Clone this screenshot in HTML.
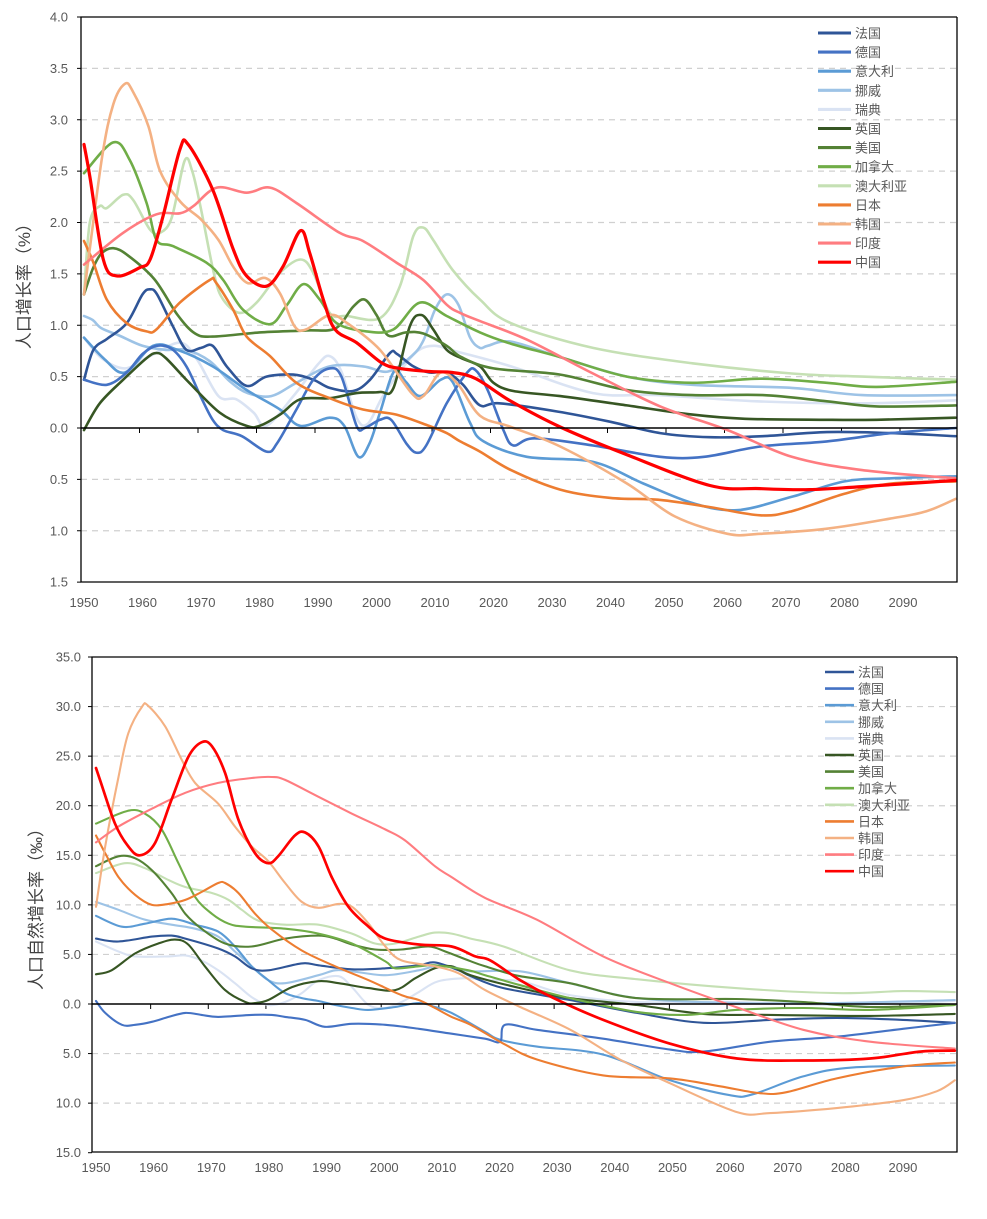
<!DOCTYPE html>
<html><head><meta charset="utf-8">
<style>
html,body{margin:0;padding:0;background:#fff;}
svg{display:block;font-family:"Liberation Sans","Noto Sans CJK SC",sans-serif;}
.tick{font-size:13px;fill:#595959;}
.leg{font-size:13px;fill:#595959;}
</style></head>
<body>
<svg id="chart" width="987" height="1219" viewBox="0 0 987 1219" xmlns="http://www.w3.org/2000/svg">
<defs>
<clipPath id="clipTop"><rect x="81" y="10" width="877" height="573"/></clipPath>
<clipPath id="clipBot"><rect x="92" y="650" width="866" height="503"/></clipPath>
</defs>
<g id="top"></g>
<g id="bot"></g>
</svg>
<script>
const names = ["法国","德国","意大利","挪威","瑞典","英国","美国","加拿大","澳大利亚","日本","韩国","印度","中国"];
const keys = ["france","germany","italy","norway","sweden","uk","us","canada","australia","japan","korea","india","china"];
const colors = ["#2F5597","#4472C4","#5B9BD5","#9DC3E6","#DAE3F3","#375623","#548235","#70AD47","#C5E0B4","#ED7D31","#F4B183","#FF7C80","#FF0000"];
const xTickYears = [1950,1960,1970,1980,1990,2000,2010,2020,2030,2040,2050,2060,2070,2080,2090];
const topYTicks = [4,3.5,3,2.5,2,1.5,1,0.5,0,-0.5,-1,-1.5];
const botYTicks = [35,30,25,20,15,10,5,0,-5,-10,-15];

// ---- top chart: population growth rate (%) ----
const topFrance = [[1950,0.47],[1951.6,0.76],[1954,0.87],[1957.3,1.02],[1960,1.3],[1961.3,1.35],[1962.5,1.3],[1965.2,0.99],[1967.5,0.76],[1970,0.78],[1972,0.8],[1974.4,0.6],[1977.8,0.41],[1981.2,0.5],[1985.8,0.52],[1989.2,0.47],[1992,0.39],[1996,0.36],[1998.9,0.47],[2002.3,0.73],[2003.5,0.72],[2006.3,0.6],[2009,0.54],[2012,0.54],[2014.8,0.42],[2017.7,0.22],[2021,0.24],[2031,0.16],[2040,0.06],[2048.5,-0.05],[2057,-0.09],[2066,-0.08],[2077,-0.04],[2088,-0.05],[2099,-0.08]];
const topGermany = [[1950,0.47],[1953.9,0.42],[1957.3,0.54],[1960,0.72],[1962.4,0.8],[1965,0.77],[1967.5,0.6],[1970,0.3],[1972,0.08],[1973.8,-0.02],[1977,-0.08],[1981.2,-0.23],[1983,-0.15],[1986.3,0.18],[1989.2,0.47],[1992,0.58],[1994,0.5],[1996.6,0.02],[1998,0],[2000.6,0.08],[2002.5,0.08],[2005.1,-0.15],[2006.8,-0.24],[2008.5,-0.17],[2012,0.24],[2015.5,0.54],[2017,0.56],[2019,0.37],[2021.7,-0.02],[2023.4,-0.17],[2027,-0.1],[2037,-0.17],[2048.5,-0.28],[2056,-0.28],[2065.6,-0.18],[2077,-0.13],[2088,-0.05],[2099,0.0]];
const topItaly = [[1950,0.88],[1953.5,0.67],[1957,0.54],[1961.8,0.8],[1966,0.76],[1972,0.6],[1977.8,0.37],[1983.5,0.18],[1987,0.02],[1992,0.1],[1994.5,0.02],[1996.9,-0.28],[1998.8,-0.15],[2000.6,0.15],[2003,0.55],[2005,0.45],[2007.5,0.31],[2011,0.47],[2013,0.45],[2016,0.05],[2018.3,-0.13],[2025.7,-0.28],[2037,-0.33],[2045.6,-0.54],[2054,-0.73],[2061.6,-0.8],[2071,-0.67],[2080,-0.52],[2088,-0.49],[2099,-0.47]];
const topNorway = [[1950,1.09],[1951.5,1.05],[1953,0.97],[1956,0.9],[1960,0.8],[1964,0.76],[1967.5,0.76],[1971.5,0.65],[1975,0.45],[1978,0.34],[1982,0.31],[1986.3,0.44],[1992,0.6],[1997.7,0.6],[2002,0.55],[2006,0.7],[2008,0.85],[2010,1.15],[2012,1.3],[2014,1.2],[2016,0.88],[2017.7,0.78],[2019,0.8],[2023,0.84],[2031.4,0.69],[2042.8,0.5],[2054,0.42],[2071,0.39],[2083,0.32],[2099,0.32]];
const topSweden = [[1950,0.88],[1953,0.68],[1957,0.58],[1961.3,0.7],[1966.4,0.83],[1969.3,0.67],[1973,0.31],[1976,0.28],[1979,0.15],[1981.2,0.02],[1985.8,0.31],[1990,0.62],[1992,0.7],[1994,0.55],[1996.6,0.1],[1998.5,0.04],[2001,0.3],[2004,0.55],[2007,0.75],[2010,0.8],[2014,0.74],[2023,0.6],[2037,0.34],[2048,0.32],[2065,0.26],[2083,0.24],[2099,0.27]];
const topUK = [[1950,-0.02],[1952.7,0.24],[1956.7,0.47],[1960.7,0.68],[1962.4,0.73],[1964,0.68],[1968,0.44],[1973.2,0.15],[1977.8,0.02],[1980,0.02],[1983.5,0.13],[1987,0.28],[1992,0.29],[1996.6,0.34],[2000.6,0.35],[2002.9,0.39],[2005.7,0.99],[2007.7,1.1],[2009.7,0.96],[2012,0.76],[2014.5,0.68],[2017.7,0.6],[2020,0.44],[2023.4,0.36],[2031.4,0.31],[2042.8,0.22],[2054,0.13],[2063,0.09],[2077,0.08],[2085.5,0.08],[2099,0.1]];
const topUS = [[1950,1.3],[1951.5,1.55],[1953,1.7],[1955,1.75],[1957.5,1.68],[1962,1.45],[1966,1.1],[1969,0.92],[1972,0.89],[1980,0.93],[1988,0.95],[1993,0.97],[1996,1.18],[1998,1.25],[2000,1.1],[2002,0.9],[2005,0.93],[2008,0.92],[2012,0.8],[2014.5,0.69],[2020,0.58],[2031.4,0.52],[2042.8,0.37],[2054,0.32],[2066,0.32],[2077,0.26],[2085.5,0.21],[2099,0.22]];
const topCanada = [[1950,2.48],[1955,2.78],[1957.8,2.61],[1960.7,2.19],[1962.4,1.83],[1965.2,1.77],[1970.9,1.61],[1973.8,1.44],[1977.2,1.15],[1981.8,1.01],[1984.6,1.19],[1987.5,1.4],[1990.3,1.25],[1993.2,1.02],[1998.3,0.94],[2002.9,0.96],[2007.4,1.22],[2012,1.09],[2017.7,0.93],[2023,0.82],[2031.4,0.69],[2042.8,0.5],[2054,0.44],[2065.6,0.48],[2077,0.44],[2085.5,0.4],[2099,0.45]];
const topAustralia = [[1950,1.3],[1951,2.0],[1952.7,2.16],[1953.9,2.14],[1956.7,2.27],[1958.4,2.22],[1961.3,1.93],[1963,1.9],[1965,2.05],[1967.2,2.6],[1968.5,2.5],[1970,2.13],[1972.3,1.48],[1973.8,1.25],[1976.6,1.12],[1979.5,1.22],[1983.5,1.51],[1987,1.64],[1989.2,1.51],[1992,1.12],[1995,1.09],[2000.6,1.07],[2004,1.38],[2006.3,1.87],[2008,1.95],[2009.7,1.83],[2013,1.54],[2017.7,1.25],[2023,1.02],[2037,0.78],[2054,0.63],[2071,0.53],[2083,0.5],[2099,0.47]];
const topJapan = [[1950,1.82],[1951.6,1.61],[1953.9,1.25],[1957.3,1.02],[1960.7,0.94],[1962.4,0.96],[1966.4,1.22],[1971.5,1.44],[1972.5,1.42],[1975.5,1.15],[1977.8,0.89],[1981.8,0.7],[1986.3,0.44],[1992,0.29],[1997.7,0.18],[2003.4,0.13],[2009,0.02],[2012,-0.05],[2014.3,-0.13],[2017.7,-0.23],[2023,-0.41],[2031.4,-0.6],[2040,-0.68],[2048.5,-0.7],[2057,-0.77],[2065.6,-0.85],[2071,-0.81],[2080,-0.64],[2088,-0.54],[2099,-0.52]];
const topKorea = [[1950,1.3],[1953,2.6],[1955,3.15],[1957,3.35],[1958.3,3.28],[1961,2.94],[1963,2.5],[1966.5,2.2],[1970,2.03],[1973,1.83],[1975.5,1.57],[1978,1.41],[1981,1.46],[1983.5,1.31],[1986,0.99],[1988,0.96],[1992,1.1],[1995,1.02],[2000.6,0.76],[2006,0.34],[2008,0.31],[2011,0.54],[2014,0.42],[2017.7,0.12],[2023,0.01],[2031.4,-0.18],[2042.8,-0.54],[2051,-0.86],[2060,-1.03],[2065.6,-1.03],[2077,-0.98],[2088,-0.88],[2094,-0.81],[2099,-0.69]];
const topIndia = [[1950,1.59],[1956.7,1.9],[1962.4,2.08],[1966.4,2.09],[1968.7,2.16],[1972.7,2.34],[1977.8,2.29],[1981.8,2.34],[1986.3,2.19],[1993.7,1.9],[1997.7,1.82],[2003.4,1.61],[2008,1.44],[2012,1.2],[2014.3,1.12],[2017.7,1.04],[2025.7,0.86],[2037,0.53],[2048.5,0.21],[2060,-0.02],[2071,-0.28],[2083,-0.41],[2099,-0.49]];
const topChina = [[1950,2.76],[1951,2.45],[1953.3,1.64],[1955.6,1.48],[1959.5,1.56],[1961.3,1.64],[1963.5,2.06],[1966.4,2.71],[1967.8,2.76],[1972,2.32],[1975.5,1.74],[1977.8,1.48],[1981.2,1.38],[1984,1.57],[1987,1.92],[1988.6,1.7],[1990.9,1.25],[1992.9,0.96],[1996.6,0.83],[2001,0.63],[2004,0.58],[2009,0.55],[2013,0.54],[2017,0.48],[2023,0.26],[2031.4,0.01],[2042.8,-0.26],[2057,-0.56],[2065.6,-0.59],[2074,-0.6],[2083,-0.57],[2099,-0.51]];

// ---- bottom chart: natural growth rate (‰) ----
const botFrance = [[1950,6.6],[1953.9,6.3],[1959.7,6.8],[1963.1,6.9],[1965.5,6.6],[1971.2,5.6],[1974.1,4.8],[1977,3.6],[1979.9,3.4],[1985.7,4.1],[1988.6,3.9],[1994.4,3.5],[2000.2,3.6],[2006,3.9],[2008.8,4.2],[2012.9,3.4],[2015,2.8],[2020.7,1.6],[2032.2,0.4],[2043.8,-0.9],[2055.4,-1.9],[2067,-1.6],[2078.5,-1.4],[2090,-1.6],[2099,-1.9]];
const botGermany = [[1950,0.3],[1951.6,-0.9],[1954.5,-2.1],[1956.8,-2.1],[1959.7,-1.8],[1962.6,-1.3],[1965.5,-0.9],[1968.3,-1.1],[1971.2,-1.3],[1977,-1.1],[1980.5,-1.1],[1982.8,-1.3],[1986.3,-1.6],[1989.7,-2.3],[1994.4,-2.0],[2000.2,-2.1],[2006,-2.5],[2011.7,-3.0],[2017.5,-3.5],[2020.1,-3.8],[2021,-2.1],[2026.5,-2.6],[2038,-3.5],[2049.6,-4.6],[2055.4,-4.8],[2067,-3.8],[2078.5,-3.3],[2090,-2.5],[2099,-1.9]];
const botItaly = [[1950,8.9],[1954.5,7.8],[1958.5,8.1],[1963.1,8.6],[1967.2,8.0],[1971.2,7.3],[1974.1,5.8],[1977,3.8],[1979.9,2.4],[1982.8,1.1],[1985.7,0.6],[1988.6,0.3],[1991.5,-0.1],[1994.4,-0.4],[1997.3,-0.6],[2001.9,-0.3],[2006,0.1],[2008.8,-0.3],[2011.7,-0.9],[2017.5,-2.8],[2020.1,-3.6],[2026.5,-4.3],[2038,-5.1],[2049.6,-7.7],[2060,-9.2],[2064,-9.1],[2072.7,-7.3],[2081.4,-6.4],[2099,-6.2]];
const botNorway = [[1950,10.3],[1953.9,9.5],[1958.5,8.5],[1963.1,8.0],[1967.2,7.6],[1971.2,6.8],[1974.1,5.3],[1977,3.8],[1979.9,2.4],[1982.8,2.1],[1988.6,2.9],[1991.5,3.4],[1994.4,3.3],[2000.2,2.9],[2006,3.4],[2008.8,3.8],[2011.7,3.8],[2015,3.3],[2023.6,3.3],[2032.2,2.1],[2043.8,0.6],[2061,0.1],[2078.5,0.1],[2099,0.4]];
const botSweden = [[1950,6.3],[1953.9,5.3],[1956.8,4.8],[1962.6,4.8],[1965.5,4.9],[1968.3,4.4],[1971.2,3.4],[1974.1,2.1],[1977,0.7],[1979.9,-0.1],[1982.8,0.2],[1985.7,1.1],[1988.6,2.4],[1992.1,2.8],[1994.4,1.7],[1997.3,-0.1],[2000.2,-0.4],[2003,0.2],[2006,1.2],[2009.4,2.3],[2014.6,2.6],[2017.5,2.4],[2023.6,2.3],[2032.2,0.9],[2043.8,0.2],[2061,0.2],[2078.5,-0.1],[2090,0.1],[2099,0.3]];
const botUK = [[1950,3.0],[1952.7,3.4],[1956.8,5.1],[1960.8,6.1],[1963.7,6.5],[1966,6.0],[1968.9,3.8],[1972.4,1.4],[1975.9,0.2],[1977.6,0.1],[1979.9,0.4],[1984,1.7],[1988.6,2.3],[1992.1,2.1],[1997.3,1.6],[2001.9,1.4],[2005.4,2.6],[2008.8,3.6],[2011.7,3.8],[2015,2.9],[2023.6,1.6],[2032.2,0.6],[2043.8,-0.1],[2055.4,-1.0],[2067,-1.1],[2084.3,-1.2],[2099,-1.0]];
const botUS = [[1950,13.9],[1953.9,14.9],[1956.8,14.7],[1959.7,13.5],[1963.1,11.2],[1965.5,9.1],[1968.3,7.6],[1972.4,6.1],[1977,5.8],[1982.8,6.6],[1988.6,6.9],[1991.5,6.6],[1994.4,6.0],[1998.4,5.5],[2003,5.5],[2007.7,5.8],[2010.6,5.3],[2014.6,4.4],[2017.5,3.8],[2023.6,2.8],[2032.2,2.1],[2043.8,0.6],[2061,0.5],[2072.7,0.2],[2084.3,-0.3],[2099,-0.1]];
const botCanada = [[1950,18.2],[1955.6,19.5],[1958.5,19.2],[1961.4,17.6],[1964.3,14.2],[1967.2,10.8],[1970.1,9.1],[1973,8.1],[1975.9,7.8],[1982.8,7.6],[1988.6,7.1],[1994.4,6.1],[2000.2,4.3],[2001.9,3.6],[2006,3.8],[2008.8,3.9],[2014.6,3.4],[2017.5,2.9],[2023.6,1.9],[2032.2,0.6],[2043.8,-0.8],[2052.5,-1.1],[2061,-0.6],[2072.7,-0.4],[2084.3,-0.6],[2099,-0.1]];
const botAustralia = [[1950,13.2],[1955,14.2],[1958.5,13.7],[1962.6,12.5],[1965.5,11.8],[1970.1,11.2],[1973,10.5],[1975.3,9.5],[1978.2,8.4],[1982.8,8.0],[1988.6,8.0],[1994.4,7.1],[1998.4,6.1],[2001.9,6.1],[2006,6.8],[2008.8,7.2],[2011.7,7.1],[2015,6.6],[2020.7,5.8],[2032.2,3.4],[2043.8,2.5],[2061,1.6],[2078.5,1.1],[2090,1.3],[2099,1.2]];
const botJapan = [[1950,17.0],[1951.6,15.2],[1953.9,12.8],[1956.8,11.0],[1959.7,10.0],[1962.6,10.1],[1965.5,10.5],[1968.3,11.3],[1971.2,12.2],[1972.4,12.2],[1974.7,11.2],[1977.6,9.1],[1980.5,7.5],[1985.7,5.4],[1991.5,3.8],[1997.3,2.4],[2003,0.9],[2006,0.4],[2008.8,-0.4],[2011.7,-1.3],[2015,-2.1],[2020.7,-4.0],[2026.5,-5.6],[2038,-7.2],[2049.6,-7.5],[2058.3,-8.3],[2065.2,-9.0],[2069.8,-8.9],[2078.5,-7.5],[2090,-6.3],[2099,-5.9]];
const botKorea = [[1950,9.8],[1951.6,15.9],[1953.9,22.9],[1955.6,27.3],[1958,30.0],[1959,30.1],[1962,28.0],[1964.9,24.6],[1967.2,22.3],[1971.2,20.2],[1974.1,17.9],[1977,15.9],[1979.9,14.4],[1982.8,12.2],[1985.7,10.3],[1988.6,9.7],[1992.1,10.1],[1994.4,9.8],[1997.3,8.1],[2000.2,5.8],[2003,4.4],[2008.8,3.8],[2012.9,3.1],[2017.5,1.4],[2023.6,-0.3],[2032.3,-2.6],[2040.9,-5.6],[2049.6,-8.0],[2061.2,-10.9],[2067,-11.0],[2078.5,-10.5],[2090,-9.7],[2095.9,-8.8],[2099,-7.7]];
const botIndia = [[1950,16.3],[1953.9,17.9],[1959.7,19.7],[1965.5,21.3],[1971.2,22.3],[1977,22.8],[1980.5,22.9],[1982.8,22.6],[1988.6,20.9],[1994.4,19.2],[2000.2,17.6],[2003.6,16.5],[2008.8,13.9],[2011.7,12.8],[2017.5,10.7],[2026.5,8.5],[2038,4.8],[2049.6,2.1],[2061,-0.3],[2072.7,-2.6],[2084.3,-3.8],[2099,-4.5]];
const botChina = [[1950,23.8],[1950.7,22.6],[1953.3,18.2],[1955.6,15.9],[1957.6,15.0],[1960.2,16.2],[1963.1,20.6],[1966,24.9],[1968.3,26.4],[1970.1,26.0],[1972.4,23.3],[1974.7,18.6],[1977.6,15.2],[1979.9,14.2],[1981.6,14.9],[1984.5,17.0],[1986.3,17.3],[1988.6,15.9],[1990.9,12.8],[1993.8,9.8],[1997.3,7.8],[2000.2,6.6],[2006,6.0],[2011.7,5.8],[2015.8,4.8],[2018.4,4.4],[2023.6,2.4],[2029.4,0.6],[2038,-1.6],[2049.6,-4.0],[2061.2,-5.5],[2072.7,-5.7],[2084.3,-5.5],[2093,-4.8],[2099,-4.7]];

const topSeries = [topFrance,topGermany,topItaly,topNorway,topSweden,topUK,topUS,topCanada,topAustralia,topJapan,topKorea,topIndia,topChina];
const botSeries = [botFrance,botGermany,botItaly,botNorway,botSweden,botUK,botUS,botCanada,botAustralia,botJapan,botKorea,botIndia,botChina];

const NS = "http://www.w3.org/2000/svg";
function mk(tag, attrs, parent){const e=document.createElementNS(NS,tag);for(const k in attrs)e.setAttribute(k,attrs[k]);parent.appendChild(e);return e;}

function smoothPath(pts){
  let d = "M"+pts[0][0].toFixed(1)+","+pts[0][1].toFixed(1);
  for(let i=0;i<pts.length-1;i++){
    const p0=pts[Math.max(0,i-1)],p1=pts[i],p2=pts[i+1],p3=pts[Math.min(pts.length-1,i+2)];
    const t=1/6;
    const c1x=p1[0]+(p2[0]-p0[0])*t, c1y=p1[1]+(p2[1]-p0[1])*t;
    const c2x=p2[0]-(p3[0]-p1[0])*t, c2y=p2[1]-(p3[1]-p1[1])*t;
    d+=" C"+c1x.toFixed(1)+","+c1y.toFixed(1)+" "+c2x.toFixed(1)+","+c2y.toFixed(1)+" "+p2[0].toFixed(1)+","+p2[1].toFixed(1);
  }
  return d;
}

function drawChart(g, cfg, seriesList){
  const X = yr => cfg.x0 + (yr-1950)*cfg.dx;
  const Y = v => cfg.y0 - v*cfg.dy;
  // gridlines
  cfg.yTicks.forEach(v=>{
    if(v===0 || v===cfg.yTicks[0] || v===cfg.yTicks[cfg.yTicks.length-1]) return;
    const l = mk("line",{x1:cfg.left,x2:cfg.right,y1:Y(v),y2:Y(v),stroke:"#D0D0D0","stroke-width":1.2,"stroke-dasharray":"6,5"},g);
    
    
  });
  // y tick labels
  cfg.yTicks.forEach(v=>{
    const t = mk("text",{x:cfg.labelX,y:Y(v)+4.5,"text-anchor":"end",class:"tick"},g);
    t.textContent = Math.abs(v).toFixed(1);
    
    
    mk("line",{x1:cfg.left-4,x2:cfg.left,y1:Y(v),y2:Y(v),stroke:"#000","stroke-width":1},g);
  });
  // x tick labels & ticks
  xTickYears.forEach(yr=>{
    const t = mk("text",{x:X(yr),y:cfg.xLabelY,"text-anchor":"middle",class:"tick"},g);
    t.textContent = yr;
    
    
    if(yr>1950){ mk("line",{x1:X(yr)-3,x2:X(yr)-3,y1:Y(0),y2:Y(0)+5,stroke:"#000","stroke-width":1},g); }
  });
  // series
  const sg = mk("g",{"clip-path":"url(#"+cfg.clip+")"},g);
  const order=[8,4,3,2,0,1,5,6,7,9,10,11,12];
  order.forEach(i=>{
    const pts = seriesList[i].map(p=>[X(p[0]),Y(p[1])]);
    const p = mk("path",{d:smoothPath(pts),fill:"none",stroke:colors[i],"stroke-width":i===12?cfg.lw+0.6:cfg.lw,"stroke-linejoin":"round","stroke-linecap":"round"},sg);
    
    
  });
  // axes frame
  const ax = mk("path",{d:"M"+cfg.right+","+cfg.top+" L"+cfg.left+","+cfg.top+" L"+cfg.left+","+cfg.bottom+" L"+cfg.right+","+cfg.bottom+" L"+cfg.right+","+cfg.top,fill:"none",stroke:"#000","stroke-width":1.3},g);
  
  
  const z = mk("line",{x1:cfg.left,x2:cfg.right,y1:Y(0),y2:Y(0),stroke:"#000","stroke-width":1.6},g);
  
  
  // y-axis title
  const tt = mk("text",{x:0,y:0,"text-anchor":"middle",transform:"translate("+cfg.titleX+","+cfg.titleY+") rotate(-90)","font-size":"17","fill":"#404040"},g);
  tt.textContent = cfg.title;
  
  
  // legend
  const lg = mk("g",{},g);
  
  
  names.forEach((n,i)=>{
    const yy = cfg.legY + i*cfg.legDy;
    const e = mk("g",{},lg);
    
    
    mk("line",{x1:cfg.legX,x2:cfg.legX+cfg.legW,y1:yy,y2:yy,stroke:colors[i],"stroke-width":cfg.lw+0.5},e);
    const t = mk("text",{x:cfg.legX+cfg.legW+4,y:yy+5,class:"leg","font-size":cfg.legFs},e);
    t.textContent = n;
  });
}

drawChart(document.getElementById("top"),{
  x0:84, dx:5.85, y0:428, dy:102.75, left:81, right:957, top:17, bottom:582,
  yTicks:topYTicks, labelX:68, xLabelY:607, clip:"clipTop", lw:2.6,
  title:"人口增长率（%）", titleX:30, titleY:282,
  legX:818, legW:33, legY:33, legDy:19.1, legFs:14
}, topSeries);

drawChart(document.getElementById("bot"),{
  x0:96, dx:5.764, y0:1004, dy:9.914, left:92, right:957, top:657, bottom:1152,
  yTicks:botYTicks, labelX:81, xLabelY:1172, clip:"clipBot", lw:2.1,
  title:"人口自然增长率（‰）", titleX:42, titleY:905,
  legX:825, legW:29, legY:672, legDy:16.6, legFs:12.5
}, botSeries);
</script>
</body></html>
